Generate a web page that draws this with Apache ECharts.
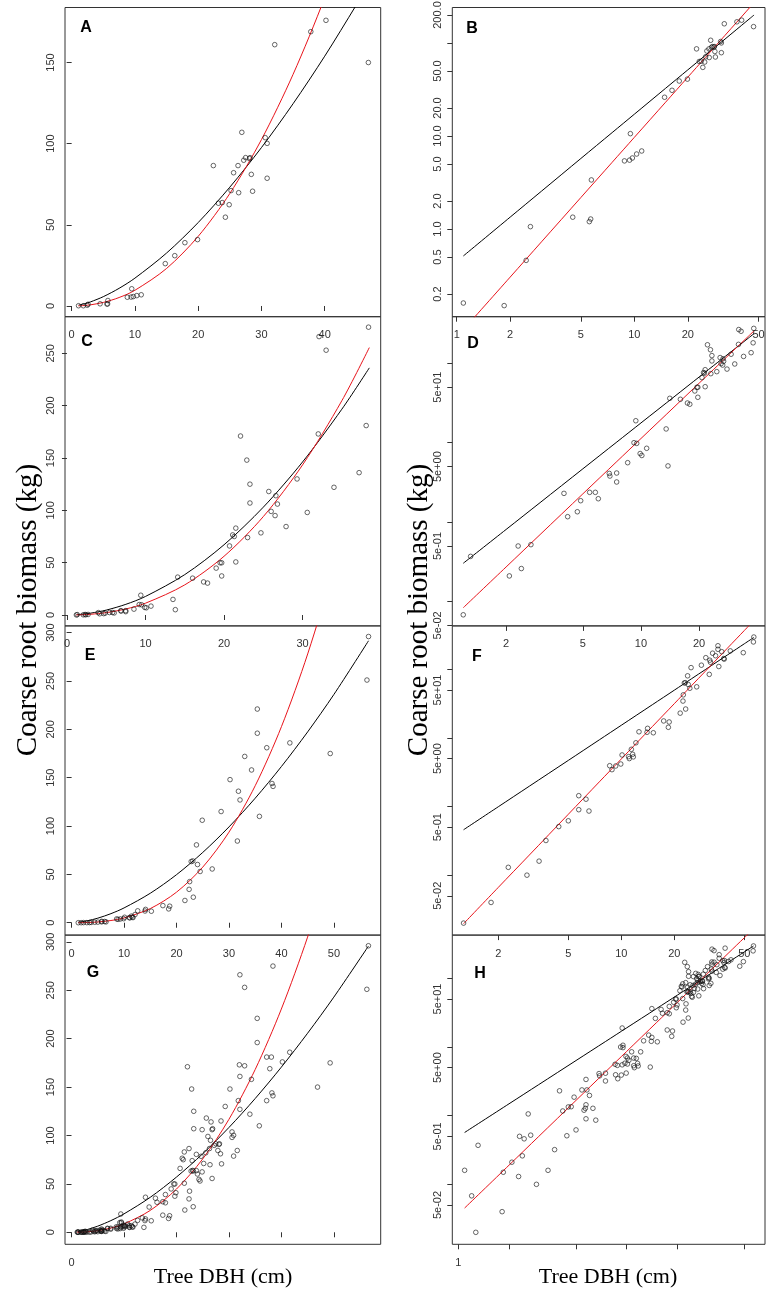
<!DOCTYPE html>
<html><head><meta charset="utf-8">
<script src="https://cdn.jsdelivr.net/npm/echarts@6/dist/echarts.min.js"></script>
<style>html,body{margin:0;padding:0;background:#fff}#c{width:770px;height:1299px}</style>
</head><body><div id="c"></div>
<script>
// ---------- data (DBH cm, coarse root biomass kg) ----------
const treesA = [[1.09,0.16],[1.85,0.15],[2.46,0.46],[2.6,1.06],[4.5,1.34],[5.58,1.2],[5.68,1.28],[5.73,3.37],
[8.8,5.4],[9.4,5.5],[9.75,5.8],[10.3,6.4],[11.0,6.9],[9.5,10.6],[14.8,26.1],[16.3,31.0],[17.9,39.0],[19.9,40.9],
[22.4,86.5],[23.2,63.3],[23.8,63.7],[24.3,54.7],[24.9,62.4],[25.2,71.1],[25.6,82.1],[26.3,86.5],[26.4,69.8],[26.9,107],
[27.2,89.8],[27.5,91.4],[28.1,90.8],[28.2,91.4],[28.4,81.1],[28.6,70.7],[30.6,103.7],[30.9,100.2],[30.9,78.7],
[32.1,161],[37.8,169],[40.2,176],[46.9,150]];
const treesC = [[1.20,0.068],[1.31,0.37],[2.08,0.21],[2.31,0.50],[2.40,0.26],[2.69,0.52],[3.99,2.3],[4.17,1.17],[4.68,1.35],
[4.87,1.86],[5.42,2.37],[5.80,2.37],[6.01,1.97],[6.85,4.1],[6.9,3.8],[7.48,4.15],[7.48,3.2],[8.53,5.6],[9.2,10.0],[9.4,18.9],
[9.5,9.8],[9.9,7.3],[10.1,6.9],[10.7,8.5],[13.5,14.9],[13.8,5.1],[14.1,36.2],[16.0,35.2],[17.4,31.6],[17.9,30.5],[19.0,44.8],
[19.5,49.9],[19.7,49.9],[19.7,37.3],[20.7,66],[21.1,76.5],[21.5,83],[21.3,75],[21.5,50.7],[22.1,171],[22.9,148],[23.3,125],
[23.3,107],[23.0,74],[24.7,78.5],[25.7,118],[26.0,99],[26.5,95],[26.6,114],[26.8,106],[27.9,84.5],[29.3,130],[30.6,98],
[32.0,173],[32.1,266],[33.0,253],[34.0,122],[37.2,136],[38.1,181],[38.4,275]];
const treesE = [[1.27,0.020],[1.82,0.040],[2.28,0.13],[2.91,0.10],[3.41,0.16],[3.73,0.32],[4.41,0.51],[5.0,0.62],[5.73,1.44],
[5.73,0.90],[6.30,1.28],[6.55,0.86],[8.59,3.94],[8.85,3.45],[9.29,3.90],[9.93,4.17],[10.1,5.65],[11.0,5.34],[11.1,5.0],
[11.4,6.83],[11.6,5.78],[11.7,5.3],[12.1,8.5],[12.6,12.3],[14.0,12.1],[14.1,13.8],[15.2,11.9],[17.4,17.7],[18.5,14.3],
[18.7,17.1],[21.6,23],[22.4,34.5],[22.5,42.5],[23.2,26.4],[22.8,63.3],[23.1,63.9],[23.8,80.5],[24.0,60.2],[24.5,53],
[24.9,106],[26.8,55.6],[28.5,115],[30.2,148],[31.6,84.5],[31.8,136],[32.1,127],[33.0,172],[34.3,158],[35.4,221],[35.4,196],
[35.8,110],[37.2,181],[38.2,144],[38.4,141],[41.6,186],[49.3,175],[56.3,251],[56.6,296]];
const treesAll = treesA.concat(treesC, treesE);

// fitted curves (black and red), read at these DBH values
const curveXA = [1.09,2,3,5,7.5,10,15,20,25,30,35,40,45,47.2];
const blackA  = [0.513,1.342,2.55,5.73,10.88,17.15,32.6,51.4,73.2,97.6,124.6,153.9,185.5,200.0];
const redA    = [0.0826,0.304,0.727,2.18,5.21,9.67,23.1,42.9,69.3,102.5,142.7,190.0,245,271];
const curveXC = [1.2,2,3,5,7.5,10,15,20,25,30,35,38.5];
const blackC  = [0.303,0.807,1.758,4.69,10.21,17.74,38.6,67.1,103.0,146.2,196.6,236.1];
const redC    = [0.0835,0.272,0.696,2.27,5.80,11.29,28.8,56.1,94.0,143.4,204.7,255.5];
const curveXE = [1.27,2,3,5,7.5,10,15,20,25,30,35,40,45,50,56.6];
const blackE  = [0.459,0.993,1.978,4.71,9.39,15.31,30.5,49.7,72.7,99.1,128.8,161.6,197.4,236.1,291.6];
const redE    = [0.0196,0.0663,0.196,0.772,2.29,4.94,14.64,31.6,57.5,93.7,141.7,202.8,278,368.7,514];
const curveXG = [1.09,2,3,5,7.5,10,15,20,25,30,35,40,45,50,56.6];
const blackG  = [0.569,1.488,2.827,6.35,12.06,19.01,36.1,57.0,81.1,108.2,138.1,170.6,205.6,242.9,295.6];
const redG    = [0.0452,0.190,0.497,1.669,4.37,8.63,22.56,44.6,75.7,116.6,168.0,230.6,304.9,391,525];

// tick values
const linX40 = [0,10,20,30,40];
const linX30 = [0,10,20,30];
const linX50 = [0,10,20,30,40,50];
const linY150 = [0,50,100,150];
const linY250 = [0,50,100,150,200,250];
const linY300 = [0,50,100,150,200,250,300];
const logX = [1,2,5,10,20,50];
const logXD = [2,5,10,20];
const logXF = [2,5,10,20,50];
const logYBticks = [0.2,0.5,1,2,5,10,20,50,100,200];
const logYBlabels = [0.2,0.5,1,2,5,10,20,50,200];
const logYticks = [0.05,0.1,0.5,1,5,10,50,100];
const logYlabels = [0.05,0.5,5,50];

// ---------- layout ----------
const colLeft = [65, 452.3], colW = [315.7, 312.7];
const rowTop = [7.5, 316.7, 625.9, 935.1], rowH = 309.2;
function rExp(v){const e=Math.floor(Math.log10(v)+1e-9);const m=Math.round(v/Math.pow(10,e));return m+'e'+(e<0?'-':'+')+String(Math.abs(e)).padStart(2,'0');}
const fmtNum = v => String(+v);
const fmtB = v => (+v).toFixed(1);

const panels = [
 {L:'A',col:0,row:0,trees:treesA,cx:curveXA,bk:blackA,rd:redA,log:false,xr:[-1.05,48.85],yr:[-6.6,183.9],xt:linX40,xl:linX40,yt:linY150,yl:linY150,yf:fmtNum,lp:[86,28]},
 {L:'B',col:1,row:0,trees:treesA,cx:curveXA,bk:blackA,rd:redA,log:true,xr:[0.9445,54.4],yr:[0.114,240.9],xt:logX,xl:logX,yt:logYBticks,yl:logYBlabels,yf:fmtB,lp:[472,29]},
 {L:'C',col:0,row:1,trees:treesC,cx:curveXC,bk:blackC,rd:redC,log:false,xr:[-0.25,39.95],yr:[-10.4,285],xt:linX30,xl:linX30,yt:linY250,yl:linY250,yf:fmtNum,lp:[87,342]},
 {L:'D',col:1,row:1,trees:treesC,cx:curveXC,bk:blackC,rd:redC,log:true,xr:[1.053,43.9],yr:[0.0493,386],xt:logXD,xl:logXD,yt:logYticks,yl:logYlabels,yf:rExp,lp:[473,344]},
 {L:'E',col:0,row:2,trees:treesE,cx:curveXE,bk:blackE,rd:redE,log:false,xr:[-1.26,58.92],yr:[-12.8,307],xt:linX50,xl:linX50,yt:linY300,yl:linY300,yf:fmtNum,lp:[90,656]},
 {L:'F',col:1,row:2,trees:treesE,cx:curveXE,bk:blackE,rd:redE,log:true,xr:[1.096,65.5],yr:[0.01337,430],xt:logXF,xl:logXF,yt:logYticks,yl:logYlabels,yf:rExp,lp:[477,657]},
 {L:'G',col:0,row:3,trees:treesAll,cx:curveXG,bk:blackG,rd:redG,log:false,xr:[-1.24,58.94],yr:[-12.4,307],xt:linX50,xl:[0],yt:linY300,yl:linY300,yf:fmtNum,lp:[93,973]},
 {L:'H',col:1,row:3,trees:treesAll,cx:curveXG,bk:blackG,rd:redG,log:true,xr:[0.921,66.25],yr:[0.01339,426],xt:logX,xl:[1],yt:logYticks,yl:logYlabels,yf:rExp,lp:[480,974]}
];

const grids=[],xAxes=[],yAxes=[],series=[],graphics=[];
const axCol='#333', lblFont={color:'#333',fontSize:11,fontFamily:'Liberation Sans, Arial, sans-serif'};
panels.forEach((p,i)=>{
  grids.push({left:colLeft[p.col],top:rowTop[p.row],width:colW[p.col],height:rowH,show:true,
    borderColor:axCol,borderWidth:1,backgroundColor:'rgba(0,0,0,0)',containLabel:false,outerBoundsMode:'none'});
  const t = p.log?'log':'value';
  xAxes.push({gridIndex:i,type:t,logBase:10,min:p.xr[0],max:p.xr[1],
    axisLine:{show:false},splitLine:{show:false},minorTick:{show:false},
    axisTick:{show:true,length:5,customValues:p.xt,lineStyle:{color:axCol,width:1}},
    axisLabel:Object.assign({show:true,customValues:p.xl,margin:13,formatter:fmtNum},lblFont)});
  yAxes.push({gridIndex:i,type:t,logBase:10,min:p.yr[0],max:p.yr[1],
    axisLine:{show:false},splitLine:{show:false},minorTick:{show:false},
    axisTick:{show:true,length:5,customValues:p.yt,lineStyle:{color:axCol,width:1}},
    axisLabel:Object.assign({show:true,customValues:p.yl,margin:9,rotate:90,formatter:p.yf},lblFont)});
  series.push({type:'scatter',xAxisIndex:i,yAxisIndex:i,data:p.trees,symbol:'circle',symbolSize:4.6,silent:true,z:3,
    itemStyle:{color:'rgba(0,0,0,0)',borderColor:'#111',borderWidth:0.8}});
  series.push({type:'line',xAxisIndex:i,yAxisIndex:i,data:p.cx.map((x,k)=>[x,p.bk[k]]),showSymbol:false,smooth:0.3,clip:true,silent:true,z:2,
    lineStyle:{color:'#000',width:1}});
  series.push({type:'line',xAxisIndex:i,yAxisIndex:i,data:p.cx.map((x,k)=>[x,p.rd[k]]),showSymbol:false,smooth:0.3,clip:true,silent:true,z:2,
    lineStyle:{color:'#e8141b',width:1}});
  graphics.push({type:'text',x:p.lp[0],y:p.lp[1],style:{text:p.L,font:'bold 16px "Liberation Sans", Arial, sans-serif',fill:'#000',textAlign:'center',textVerticalAlign:'middle'}});
});
const serif='"Liberation Serif", "Times New Roman", serif';
graphics.push({type:'text',x:28,y:610,rotation:Math.PI/2,style:{text:'Coarse root biomass (kg)',font:'29px '+serif,fill:'#000',textAlign:'center',textVerticalAlign:'middle'}});
graphics.push({type:'text',x:419,y:610,rotation:Math.PI/2,style:{text:'Coarse root biomass (kg)',font:'29px '+serif,fill:'#000',textAlign:'center',textVerticalAlign:'middle'}});
graphics.push({type:'text',x:223,y:1277,style:{text:'Tree DBH (cm)',font:'22px '+serif,fill:'#000',textAlign:'center',textVerticalAlign:'middle'}});
graphics.push({type:'text',x:608,y:1277,style:{text:'Tree DBH (cm)',font:'22px '+serif,fill:'#000',textAlign:'center',textVerticalAlign:'middle'}});

const chart = echarts.init(document.getElementById('c'));
chart.setOption({animation:false,backgroundColor:'#fff',grid:grids,xAxis:xAxes,yAxis:yAxes,series:series,graphic:graphics});
</script></body></html>
